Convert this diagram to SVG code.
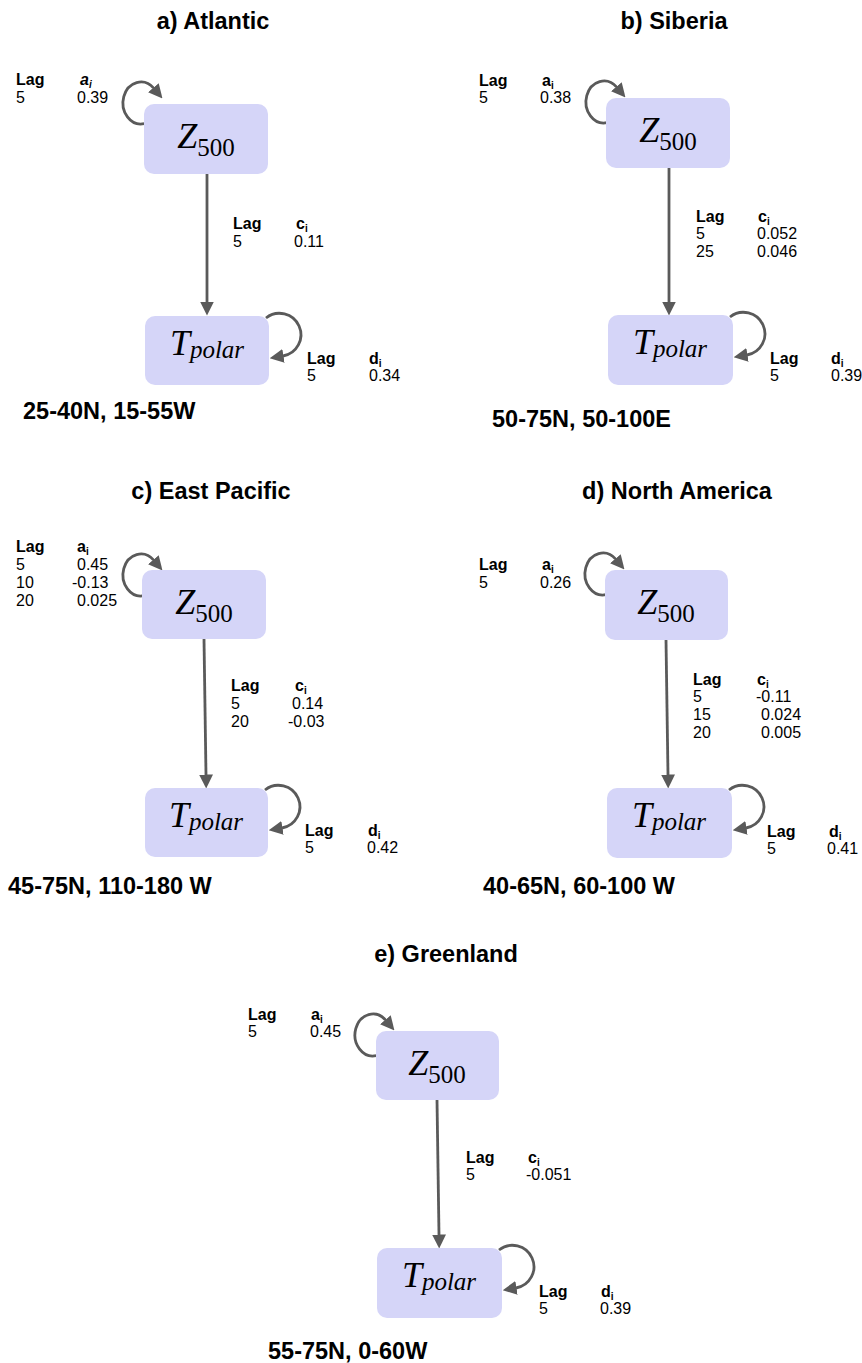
<svg xmlns="http://www.w3.org/2000/svg" width="862" height="1363" viewBox="0 0 862 1363">
<style>
.title{font-family:"Liberation Sans",Arial,sans-serif;font-weight:bold;font-size:23.5px;fill:#000;text-anchor:middle}
.region{font-family:"Liberation Sans",Arial,sans-serif;font-weight:bold;font-size:23.5px;fill:#000}
.lab{font-family:"Liberation Sans",Arial,sans-serif;font-size:16px;fill:#000}
.b{font-weight:bold}
.sub{font-size:10px;font-weight:bold}
.box{fill:#d5d5f8}
.math{font-family:"Liberation Serif","Times New Roman",serif;font-size:36px;fill:#000;text-anchor:middle}
.mi{font-style:italic}
.ms{font-size:25px}
.conn{fill:none;stroke:#5a5a5a;stroke-width:2.8;marker-end:url(#ah)}
</style>
<defs>
<marker id="ah" viewBox="0 0 14 14" refX="0.5" refY="7" markerWidth="14" markerHeight="14" markerUnits="userSpaceOnUse" orient="auto">
<path d="M0,0 L14,7 L0,14 z" fill="#5a5a5a"/>
</marker>
</defs>
<rect width="862" height="1363" fill="#fff"/>

<g id="titles">
<text class="title" x="213" y="29">a) Atlantic</text>
<text class="title" x="674" y="29">b) Siberia</text>
<text class="title" x="211" y="499">c) East Pacific</text>
<text class="title" x="677" y="499">d) North America</text>
<text class="title" x="446" y="962">e) Greenland</text>
</g>

<g id="connectors">
<path class="conn" d="M207 174 V302"/>
<path class="conn" d="M144.1 123.7 A18 21 0 1 1 153.7 88.2"/>
<path class="conn" d="M266 318 A21.5 21.5 0 1 1 283 356"/>

<path class="conn" d="M669 168 V302"/>
<path class="conn" d="M607.1 122.7 A18 21 0 1 1 616.7 87.2"/>
<path class="conn" d="M730 317 A21.5 21.5 0 1 1 747 355"/>

<path class="conn" d="M204 639 L206 775"/>
<path class="conn" d="M144.1 595.7 A18 21 0 1 1 153.7 560.2"/>
<path class="conn" d="M265 790 A21.5 21.5 0 1 1 282 828"/>

<path class="conn" d="M666 640 L668 775"/>
<path class="conn" d="M606.1 594.7 A18 21 0 1 1 615.7 559.2"/>
<path class="conn" d="M729 790 A21.5 21.5 0 1 1 746 828"/>

<path class="conn" d="M437 1100 L439 1235"/>
<path class="conn" d="M376.1 1055.7 A18 21 0 1 1 385.7 1020.2"/>
<path class="conn" d="M499 1250 A21.5 21.5 0 1 1 516 1288"/>
</g>

<g id="a-z500"><rect class="box" x="144" y="104" width="124" height="70" rx="10"/><text class="math" x="206" y="148"><tspan class="mi">Z</tspan><tspan class="ms" dy="8">500</tspan></text></g>
<g id="a-tpolar"><rect class="box" x="145" y="316" width="124" height="69" rx="10"/><text class="math" x="207" y="355"><tspan class="mi">T</tspan><tspan class="ms mi" dy="3">polar</tspan></text></g>

<g id="b-z500"><rect class="box" x="606" y="98" width="124" height="70" rx="10"/><text class="math" x="668" y="142"><tspan class="mi">Z</tspan><tspan class="ms" dy="8">500</tspan></text></g>
<g id="b-tpolar"><rect class="box" x="608" y="315" width="125" height="70" rx="10"/><text class="math" x="670" y="354"><tspan class="mi">T</tspan><tspan class="ms mi" dy="3">polar</tspan></text></g>

<g id="c-z500"><rect class="box" x="142" y="570" width="124" height="69" rx="10"/><text class="math" x="204" y="614"><tspan class="mi">Z</tspan><tspan class="ms" dy="8">500</tspan></text></g>
<g id="c-tpolar"><rect class="box" x="145" y="788" width="123" height="69" rx="10"/><text class="math" x="206" y="827"><tspan class="mi">T</tspan><tspan class="ms mi" dy="3">polar</tspan></text></g>

<g id="d-z500"><rect class="box" x="605" y="570" width="123" height="70" rx="10"/><text class="math" x="666" y="614"><tspan class="mi">Z</tspan><tspan class="ms" dy="8">500</tspan></text></g>
<g id="d-tpolar"><rect class="box" x="607" y="788" width="125" height="70" rx="10"/><text class="math" x="669" y="827"><tspan class="mi">T</tspan><tspan class="ms mi" dy="3">polar</tspan></text></g>

<g id="e-z500"><rect class="box" x="376" y="1031" width="123" height="69" rx="10"/><text class="math" x="437" y="1075"><tspan class="mi">Z</tspan><tspan class="ms" dy="8">500</tspan></text></g>
<g id="e-tpolar"><rect class="box" x="377" y="1248" width="125" height="70" rx="10"/><text class="math" x="439" y="1287"><tspan class="mi">T</tspan><tspan class="ms mi" dy="3">polar</tspan></text></g>

<g id="labels-a">
<text class="lab b" x="16" y="85">Lag</text>
<text class="lab b" x="80" y="85"><tspan font-style="italic">a</tspan><tspan class="sub" font-style="italic" dy="3">i</tspan></text>
<text class="lab" x="16" y="103">5</text><text class="lab" x="77" y="103">0.39</text>
<text class="lab b" x="233" y="229">Lag</text>
<text class="lab b" x="296" y="229">c<tspan class="sub" dy="3">i</tspan></text>
<text class="lab" x="233" y="247">5</text><text class="lab" x="294" y="247">0.11</text>
<text class="lab b" x="307" y="364">Lag</text>
<text class="lab b" x="369" y="364">d<tspan class="sub" dy="3">i</tspan></text>
<text class="lab" x="307" y="381">5</text><text class="lab" x="369" y="381">0.34</text>
<text class="region" x="23" y="419">25-40N, 15-55W</text>
</g>

<g id="labels-b">
<text class="lab b" x="479" y="86">Lag</text>
<text class="lab b" x="542" y="86">a<tspan class="sub" dy="3">i</tspan></text>
<text class="lab" x="479" y="103">5</text><text class="lab" x="540" y="103">0.38</text>
<text class="lab b" x="696" y="222">Lag</text>
<text class="lab b" x="758" y="222">c<tspan class="sub" dy="3">i</tspan></text>
<text class="lab" x="696" y="239">5</text><text class="lab" x="757" y="239">0.052</text>
<text class="lab" x="696" y="257">25</text><text class="lab" x="757" y="257">0.046</text>
<text class="lab b" x="770" y="364">Lag</text>
<text class="lab b" x="831" y="364">d<tspan class="sub" dy="3">i</tspan></text>
<text class="lab" x="770" y="381">5</text><text class="lab" x="831" y="381">0.39</text>
<text class="region" x="492" y="427">50-75N, 50-100E</text>
</g>

<g id="labels-c">
<text class="lab b" x="16" y="552">Lag</text>
<text class="lab b" x="77" y="552">a<tspan class="sub" dy="3">i</tspan></text>
<text class="lab" x="16" y="570">5</text><text class="lab" x="77" y="570">0.45</text>
<text class="lab" x="16" y="588">10</text><text class="lab" x="72" y="588">-0.13</text>
<text class="lab" x="16" y="606">20</text><text class="lab" x="77" y="606">0.025</text>
<text class="lab b" x="231" y="691">Lag</text>
<text class="lab b" x="295" y="691">c<tspan class="sub" dy="3">i</tspan></text>
<text class="lab" x="231" y="709">5</text><text class="lab" x="292" y="709">0.14</text>
<text class="lab" x="231" y="727">20</text><text class="lab" x="288" y="727">-0.03</text>
<text class="lab b" x="305" y="836">Lag</text>
<text class="lab b" x="368" y="836">d<tspan class="sub" dy="3">i</tspan></text>
<text class="lab" x="305" y="853">5</text><text class="lab" x="367" y="853">0.42</text>
<text class="region" x="8" y="894">45-75N, 110-180 W</text>
</g>

<g id="labels-d">
<text class="lab b" x="479" y="570">Lag</text>
<text class="lab b" x="542" y="570">a<tspan class="sub" dy="3">i</tspan></text>
<text class="lab" x="479" y="588">5</text><text class="lab" x="540" y="588">0.26</text>
<text class="lab b" x="693" y="685">Lag</text>
<text class="lab b" x="757" y="685">c<tspan class="sub" dy="3">i</tspan></text>
<text class="lab" x="693" y="702">5</text><text class="lab" x="756" y="702">-0.11</text>
<text class="lab" x="693" y="720">15</text><text class="lab" x="761" y="720">0.024</text>
<text class="lab" x="693" y="738">20</text><text class="lab" x="761" y="738">0.005</text>
<text class="lab b" x="767" y="837">Lag</text>
<text class="lab b" x="829" y="837">d<tspan class="sub" dy="3">i</tspan></text>
<text class="lab" x="767" y="854">5</text><text class="lab" x="827" y="854">0.41</text>
<text class="region" x="483" y="894">40-65N, 60-100 W</text>
</g>

<g id="labels-e">
<text class="lab b" x="248" y="1020">Lag</text>
<text class="lab b" x="311" y="1020">a<tspan class="sub" dy="3">i</tspan></text>
<text class="lab" x="248" y="1037">5</text><text class="lab" x="310" y="1037">0.45</text>
<text class="lab b" x="466" y="1163">Lag</text>
<text class="lab b" x="528" y="1163">c<tspan class="sub" dy="3">i</tspan></text>
<text class="lab" x="466" y="1180">5</text><text class="lab" x="526" y="1180">-0.051</text>
<text class="lab b" x="539" y="1297">Lag</text>
<text class="lab b" x="601" y="1297">d<tspan class="sub" dy="3">i</tspan></text>
<text class="lab" x="539" y="1314">5</text><text class="lab" x="600" y="1314">0.39</text>
<text class="region" x="268" y="1359">55-75N, 0-60W</text>
</g>
</svg>
